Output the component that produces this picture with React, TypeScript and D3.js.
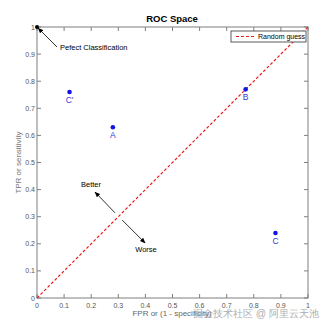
import React from "react";
import * as d3 from "d3";

const tickValues = [0, 0.1, 0.2, 0.3, 0.4, 0.5, 0.6, 0.7, 0.8, 0.9, 1];
const tickLabels = ["0", "0.1", "0.2", "0.3", "0.4", "0.5", "0.6", "0.7", "0.8", "0.9", "1"];
const pointNames = ["C'", "A", "B", "C"];
const pointFPR = [0.12, 0.28, 0.77, 0.88];
const pointTPR = [0.76, 0.63, 0.77, 0.24];
const guessLine = [[0, 0], [1, 1]];

const W = 327, H = 326;
const left = 37, right = 308, top = 27, bottom = 298;
const font = "'Liberation Sans', Arial, sans-serif";

export default function App() {
  const x = d3.scaleLinear().domain([0, 1]).range([left, right]);
  const y = d3.scaleLinear().domain([0, 1]).range([bottom, top]);
  const line = d3.line<number[]>().x(d => x(d[0])).y(d => y(d[1]));
  const axisCol = "#7f7f7f";
  const tl = 4;
  return (
    <svg width={W} height={H} style={{ position: "absolute", left: 0, top: 0, background: "#fff" }} fontFamily={font}>
      <defs>
        <marker id="ah" viewBox="0 0 10 10" refX="9" refY="5" markerWidth="7" markerHeight="7" orient="auto-start-reverse">
          <path d="M0,1 L10,5 L0,9 z" fill="#000" />
        </marker>
      </defs>
      <rect x={0} y={0} width={W} height={H} fill="#fff" />
      <text x={172} y={22} textAnchor="middle" fontSize={9.5} fontWeight="bold" fill="#000">ROC Space</text>
      <rect x={left} y={top} width={right - left} height={bottom - top} fill="none" stroke={axisCol} strokeWidth={1} />
      {tickValues.map((v, i) => (
        <g key={i}>
          <line x1={x(v)} x2={x(v)} y1={bottom} y2={bottom - tl} stroke={axisCol} />
          <line x1={x(v)} x2={x(v)} y1={top} y2={top + tl} stroke={axisCol} />
          <line x1={left} x2={left + tl} y1={y(v)} y2={y(v)} stroke={axisCol} />
          <line x1={right} x2={right - tl} y1={y(v)} y2={y(v)} stroke={axisCol} />
          <text x={x(v)} y={bottom + 10} textAnchor="middle" fontSize={7} fill="#555">{tickLabels[i]}</text>
          <text x={left - 2} y={y(v) + 2.5} textAnchor="end" fontSize={7} fill="#555">{tickLabels[i]}</text>
        </g>
      ))}
      <text x={172} y={316} textAnchor="middle" fontSize={8} fill="#666">FPR or (1 - specificity)</text>
      <text transform={`translate(21,${(top + bottom) / 2}) rotate(-90)`} textAnchor="middle" fontSize={8} fill="#777">TPR or sensitivity</text>
      <path d={line(guessLine as number[][]) || ""} stroke="#e8201c" strokeWidth={1.2} strokeDasharray="3,2" fill="none" />
      {pointNames.map((n, i) => (
        <g key={n}>
          <circle cx={x(pointFPR[i])} cy={y(pointTPR[i])} r={2.3} fill="#1414e6" />
          <text x={x(pointFPR[i])} y={y(pointTPR[i]) + 11} textAnchor="middle" fontSize={8.5} fill="#3535d0">{n}</text>
        </g>
      ))}
      <circle cx={x(0)} cy={y(1)} r={2} fill="#000" />
      <line x1={x(0.074)} y1={y(0.926)} x2={x(0.004)} y2={y(0.996)} stroke="#000" strokeWidth={0.8} markerEnd="url(#ah)" />
      <text x={60} y={50} fontSize={7.5} fill="#000">Pefect Classification</text>
      <line x1={x(0.288)} y1={y(0.314)} x2={x(0.214)} y2={y(0.391)} stroke="#000" strokeWidth={0.8} markerEnd="url(#ah)" />
      <line x1={x(0.314)} y1={y(0.288)} x2={x(0.399)} y2={y(0.203)} stroke="#000" strokeWidth={0.8} markerEnd="url(#ah)" />
      <text x={91} y={187} textAnchor="middle" fontSize={7.5} fill="#000">Better</text>
      <text x={146} y={252} textAnchor="middle" fontSize={7.5} fill="#000">Worse</text>
      <rect x={231} y={31} width={75} height={11} fill="#fff" stroke="#333" strokeWidth={0.8} />
      <line x1={236} x2={256} y1={36.5} y2={36.5} stroke="#e8201c" strokeWidth={1} strokeDasharray="3,2" />
      <text x={258} y={39} fontSize={7} fill="#000">Random guess</text>
      <text x={193} y={317} fontSize={10.2} fill="#999" opacity={0.8}>掘金技术社区 @ 阿里云天池</text>
    </svg>
  );
}
